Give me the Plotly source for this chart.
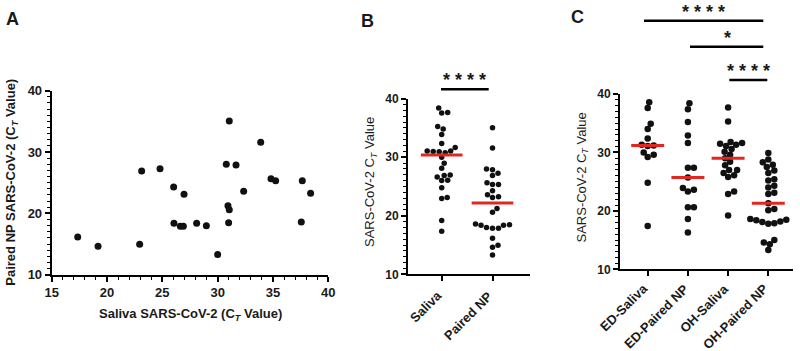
import numpy as np
import plotly.graph_objects as go

# ---------------- data ----------------
saliva_ct = [17.35, 19.19, 22.95, 23.13, 24.79, 26.02, 26.05, 26.63, 26.9, 26.96, 28.1, 28.98, 30.0,
             30.78, 31.05, 30.93, 31.05, 30.99, 31.66, 32.35, 33.89, 34.82, 35.24, 37.65, 37.56, 38.4]
paired_np_ct = [16.14, 14.62, 14.95, 26.9, 27.28, 24.29, 18.37, 17.88, 17.88, 23.1, 18.37, 17.99, 13.3,
                27.99, 35.05, 21.25, 20.6, 18.48, 27.88, 23.59, 31.58, 25.65, 25.33, 25.33, 18.59, 23.26]

b_categories = ["Saliva", "Paired NP"]

c_categories = ["ED-Saliva", "ED-Paired NP", "OH-Saliva", "OH-Paired NP"]
ed_saliva = [38.6, 37.6, 34.9, 34.0, 32.4, 31.3, 31.2, 31.1, 30.0, 29.6, 29.2, 24.8, 17.4]
ed_np = [38.4, 37.4, 35.2, 32.9, 31.6, 27.4, 27.4, 25.7, 23.9, 23.6, 23.3, 20.6, 20.6, 18.6, 16.3]
oh_saliva = [37.7, 35.3, 31.8, 31.6, 31.5, 31.3, 31.1, 30.6, 30.1, 29.6, 29.0, 28.4, 27.8, 27.0, 27.0,
             26.5, 26.1, 25.8, 23.3, 22.9, 19.2]
oh_np = [29.9, 28.8, 28.3, 27.9, 27.5, 26.9, 26.5, 25.4, 25.2, 24.3, 24.0, 23.1, 22.9, 21.3, 20.3, 20.1,
         18.6, 18.5, 18.4, 18.2, 18.1, 17.9, 17.8, 15.0, 14.6, 14.3, 13.3]

a_xticks = [15, 20, 25, 30, 35, 40]
y_ticks = [10, 20, 30, 40]

# ---------------- layout helpers ----------------
W, H = 800, 351
FONT = "Liberation Sans, Arial, Helvetica, sans-serif"
INK = "#1a1a1a"
RED = "#e3261f"


def fx(p):
    return p / W


def fy(p):
    return 1 - p / H


# pixel boxes of plot areas (left, right, top, bottom)
A_BOX = (51.7, 328.3, 90.7, 274.7)
B_BOX = (408.0, 530.0, 98.7, 274.3)
C_BOX = (620.0, 793.0, 94.0, 269.3)
B_CAT0, B_STEP = 441.7, 50.8
C_CAT0, C_STEP = 647.7, 40.2


def cat_range(box, c0, step):
    return [-(c0 - box[0]) / step, (box[1] - c0) / step]


def swarm(vals, ypx_unit, xpx_unit, d):
    placed = []
    offs = [0.0] * len(vals)
    order = sorted(range(len(vals)), key=lambda i: vals[i])
    for i in order:
        y = vals[i] * ypx_unit
        k = 0
        while True:
            cands = [0.0] if k == 0 else [k * 0.5, -k * 0.5]
            ok = None
            for xo in cands:
                if all((xo - px_) ** 2 + (y - py_) ** 2 >= d * d for px_, py_ in placed):
                    ok = xo
                    break
            if ok is not None:
                placed.append((ok, y))
                offs[i] = ok / xpx_unit
                break
            k += 1
    return offs


def median(v):
    return float(np.median(v))


fig = go.Figure()

# ---------------- Panel A ----------------
fig.add_trace(go.Scatter(x=saliva_ct, y=paired_np_ct, mode="markers",
                         marker=dict(size=7, color="#111111"), xaxis="x", yaxis="y",
                         showlegend=False, cliponaxis=False))

# ---------------- Panel B ----------------
b_groups = [saliva_ct, paired_np_ct]
b_yunit = (B_BOX[3] - B_BOX[2]) / 30.0
for gi, vals in enumerate(b_groups):
    offs = swarm(vals, b_yunit, B_STEP, 5.6)
    fig.add_trace(go.Scatter(x=[gi + o for o in offs], y=vals, mode="markers",
                             marker=dict(size=5.5, color="#111111"), xaxis="x2", yaxis="y2",
                             showlegend=False, cliponaxis=False))
for gi, vals in enumerate(b_groups):
    m = median(vals)
    fig.add_trace(go.Scatter(x=[gi - 0.41, gi + 0.41], y=[m, m], mode="lines",
                             line=dict(color=RED, width=3), xaxis="x2", yaxis="y2",
                             showlegend=False, cliponaxis=False))

# ---------------- Panel C ----------------
c_groups = [ed_saliva, ed_np, oh_saliva, oh_np]
c_yunit = (C_BOX[3] - C_BOX[2]) / 30.0
for gi, vals in enumerate(c_groups):
    offs = swarm(vals, c_yunit, C_STEP, 6.0)
    fig.add_trace(go.Scatter(x=[gi + o for o in offs], y=vals, mode="markers",
                             marker=dict(size=6.5, color="#111111"), xaxis="x3", yaxis="y3",
                             showlegend=False, cliponaxis=False))
for gi, vals in enumerate(c_groups):
    m = median(vals)
    fig.add_trace(go.Scatter(x=[gi - 0.41, gi + 0.41], y=[m, m], mode="lines",
                             line=dict(color=RED, width=3), xaxis="x3", yaxis="y3",
                             showlegend=False, cliponaxis=False))

# ---------------- axes ----------------
common = dict(showline=True, linewidth=2, linecolor="black", ticks="outside", ticklen=5,
              tickwidth=2, tickcolor="black", showgrid=False, zeroline=False, automargin=False,
              tickfont=dict(family=FONT, size=12, color=INK, weight="bold"))
a_common = {**common, "tickfont": dict(family=FONT, size=13, color=INK, weight="bold")}
minor = dict(ticks="outside", dtick=1, ticklen=3, tickwidth=1.3, tickcolor="black", showgrid=False)

fig.update_layout(
    xaxis=dict(domain=[fx(A_BOX[0]), fx(A_BOX[1])], range=[15, 40], tickvals=a_xticks,
               anchor="y", minor=minor, **a_common),
    yaxis=dict(domain=[fy(A_BOX[3]), fy(A_BOX[2])], range=[10, 40], tickvals=y_ticks,
               anchor="x", minor=minor, **a_common),
    xaxis2=dict(domain=[fx(B_BOX[0]), fx(B_BOX[1])], range=cat_range(B_BOX, B_CAT0, B_STEP),
                tickvals=list(range(len(b_categories))), showticklabels=False,
                anchor="y2", **common),
    yaxis2=dict(domain=[fy(B_BOX[3]), fy(B_BOX[2])], range=[10, 40], tickvals=y_ticks,
                anchor="x2", minor=minor, **common),
    xaxis3=dict(domain=[fx(C_BOX[0]), fx(C_BOX[1])], range=cat_range(C_BOX, C_CAT0, C_STEP),
                tickvals=list(range(len(c_categories))), showticklabels=False,
                anchor="y3", **common),
    yaxis3=dict(domain=[fy(C_BOX[3]), fy(C_BOX[2])], range=[10, 40], tickvals=y_ticks,
                anchor="x3", minor=minor, **common),
)

# ---------------- text annotations ----------------
ann = []


def text(x, y, s, size, bold=True, angle=0, color=INK, xanchor="center", yanchor="middle"):
    ann.append(dict(x=fx(x), y=fy(y), xref="paper", yref="paper", text=s, showarrow=False,
                    textangle=angle, xanchor=xanchor, yanchor=yanchor,
                    font=dict(family=FONT, size=size, color=color, weight="bold" if bold else "normal")))


text(12, 19, "A", 18)
text(367, 21, "B", 18)
text(577, 17, "C", 18)

text(12, 182.7, "Paired NP SARS-CoV-2 (C<sub><i>T</i></sub> Value)", 13, angle=-90)
text(190, 314, "Saliva SARS-CoV-2 (C<sub><i>T</i></sub> Value)", 13)
text(370, 182, "SARS-CoV-2 C<sub><i>T</i></sub> Value", 13, bold=False, angle=-90)
text(581.5, 178, "SARS-CoV-2 C<sub><i>T</i></sub> Value", 13, bold=False, angle=-90)

# rotated category labels
for i, lab in enumerate(b_categories):
    text(B_CAT0 + i * B_STEP + 6, B_BOX[3] + 11, lab, 13, angle=-45, xanchor="right", yanchor="top")
for i, lab in enumerate(c_categories):
    text(C_CAT0 + i * C_STEP + 6, C_BOX[3] + 9, lab, 13, angle=-45, xanchor="right", yanchor="top")

# significance markers
text(464.8, 80, "* * * *", 18)
text(703.7, 12, "* * * *", 18)
text(727.5, 38, "*", 18)
text(748.3, 71, "* * * *", 18)

fig.update_layout(annotations=ann)

shapes = []
for (x0, x1, y) in [(441.0, 488.7, 89.3), (644.0, 763.3, 20.7), (690.0, 763.3, 46.7), (729.3, 767.3, 80.0)]:
    shapes.append(dict(type="line", xref="paper", yref="paper", x0=fx(x0), x1=fx(x1), y0=fy(y), y1=fy(y),
                       line=dict(color="black", width=2.5)))
fig.update_layout(shapes=shapes)

fig.update_layout(width=W, height=H, margin=dict(l=0, r=0, t=0, b=0),
                  paper_bgcolor="white", plot_bgcolor="white", showlegend=False)

fig.write_html("out.html", config={"displayModeBar": False},
               post_script="document.body.style.margin='0';document.body.style.overflow='hidden';")
